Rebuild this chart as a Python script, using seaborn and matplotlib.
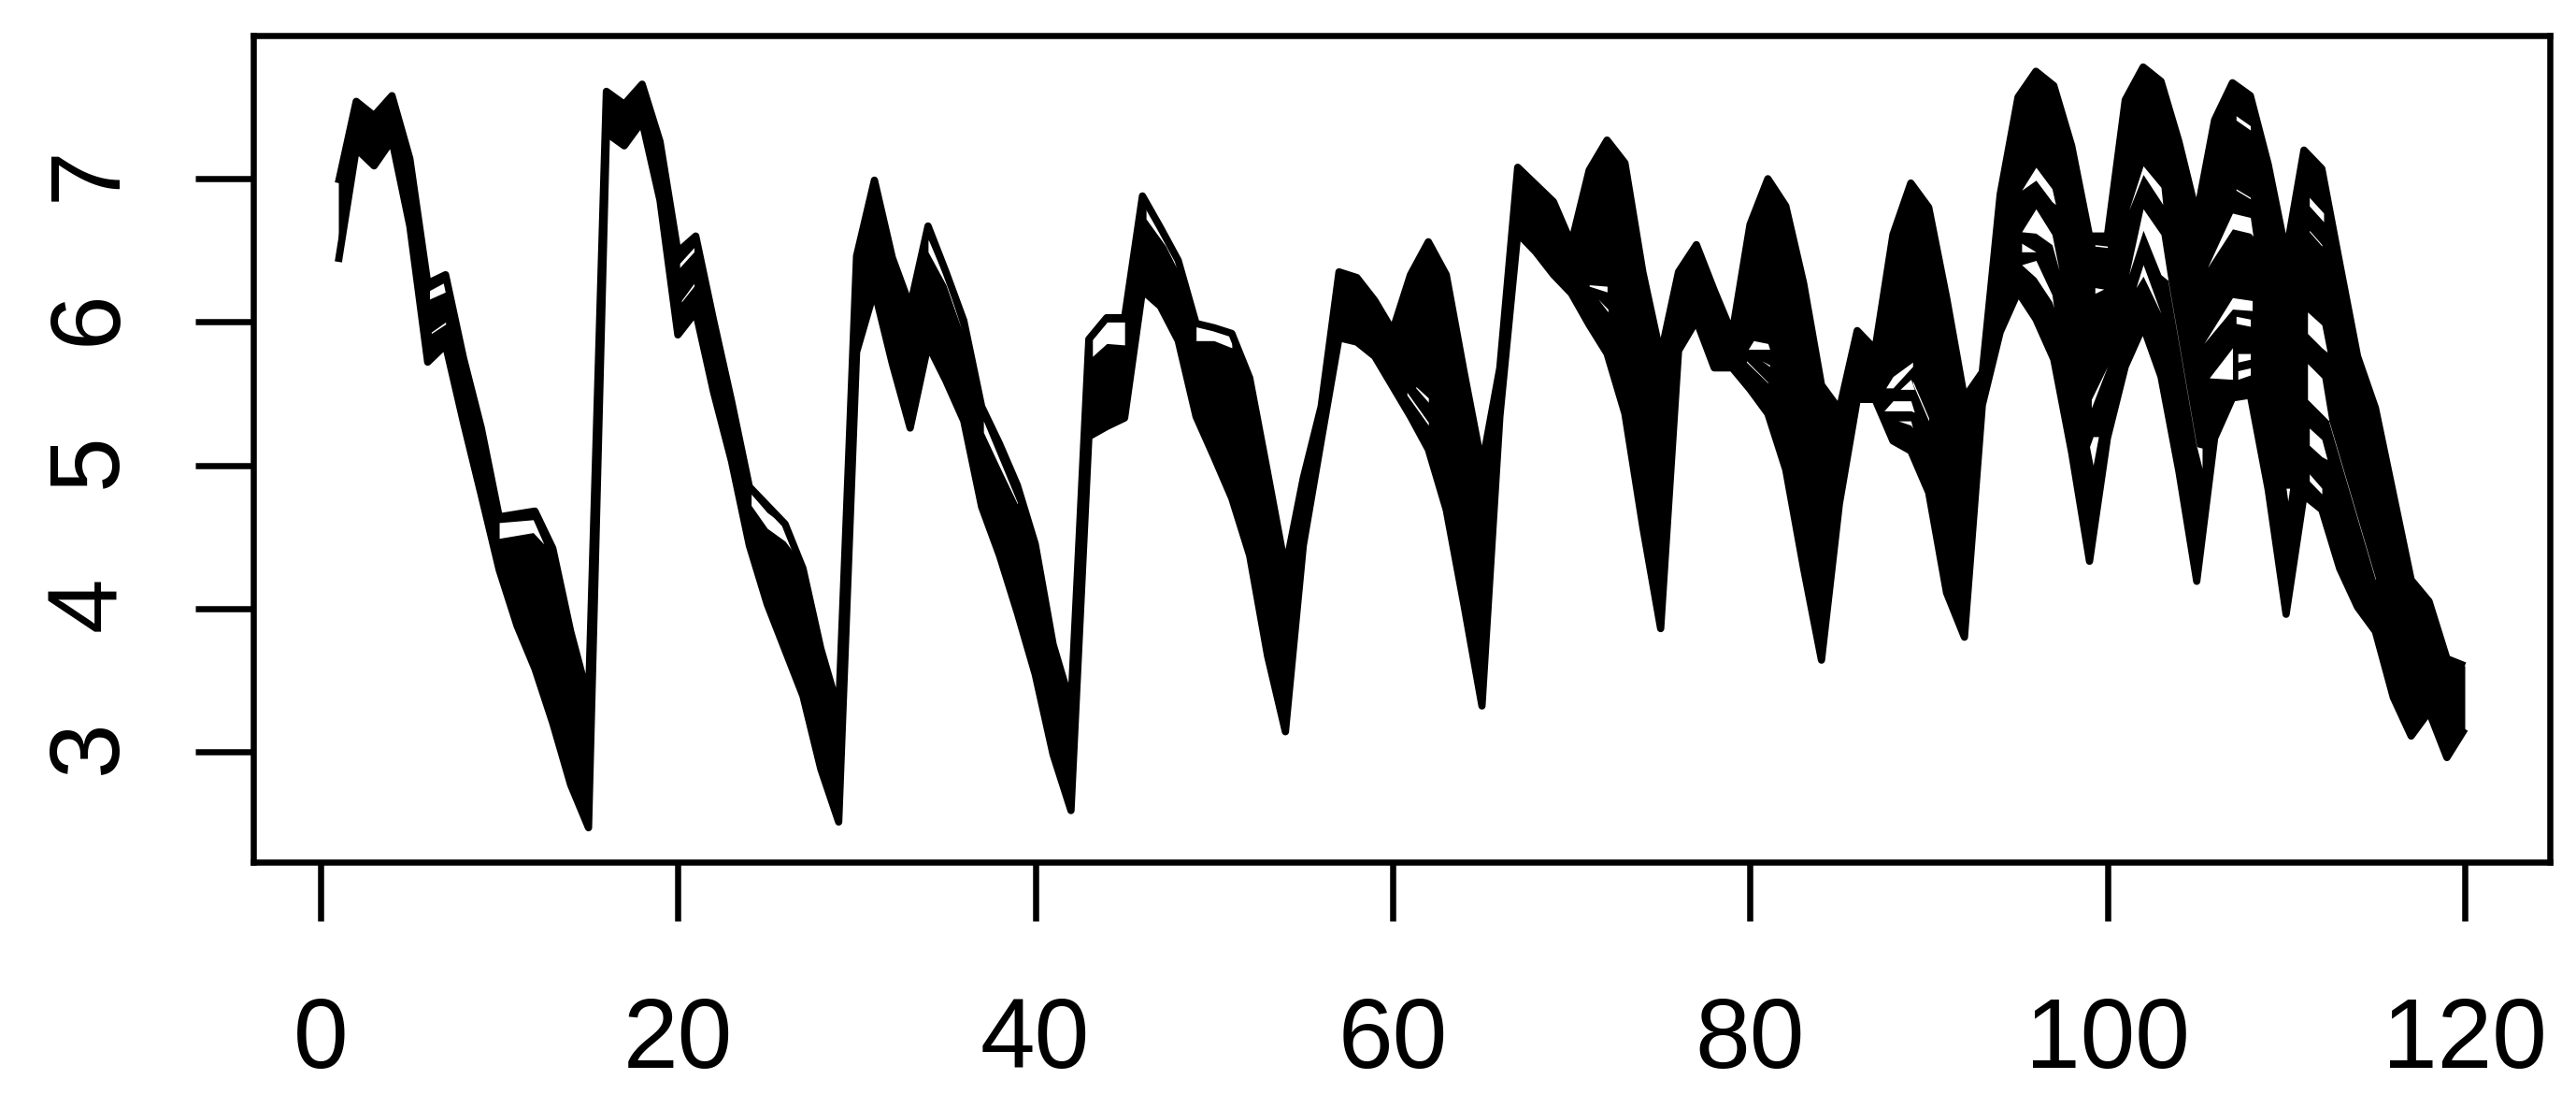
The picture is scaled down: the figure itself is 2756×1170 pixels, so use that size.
import numpy as np
import pandas as pd
import matplotlib
matplotlib.use('Agg')
import matplotlib.pyplot as plt
from matplotlib.transforms import ScaledTranslation
import seaborn as sns

sns.set_style('white')
plt.rcParams['font.family'] = ['Liberation Sans', 'DejaVu Sans']
plt.rcParams['lines.solid_joinstyle'] = 'round'
plt.rcParams['lines.solid_capstyle'] = 'butt'

# top and bottom curves of the bundle of series, one value per time step
upper = [6.97, 7.54, 7.44, 7.58, 7.14, 6.27, 6.33, 5.75, 5.26, 4.64,
         4.66, 4.68, 4.42, 3.84, 3.37, 7.61, 7.52, 7.66, 7.26, 6.49,
         6.60, 6.01, 5.45, 4.85, 4.72, 4.59, 4.28, 3.72, 3.29, 6.46,
         6.99, 6.45, 6.11, 6.67, 6.35, 6.01, 5.41, 5.15, 4.86, 4.45,
         3.75, 3.33, 5.88, 6.03, 6.03, 6.88, 6.66, 6.43, 5.99, 5.96,
         5.92, 5.61, 4.95, 4.28, 4.91, 5.41, 6.35, 6.31, 6.15, 5.94,
         6.33, 6.56, 6.33, 5.65, 5.00, 5.68, 7.08, 6.96, 6.84, 6.55,
         7.06, 7.27, 7.11, 6.35, 5.77, 6.35, 6.54, 6.22, 5.92, 6.68,
         7.00, 6.81, 6.27, 5.56, 5.39, 5.94, 5.81, 6.61, 6.97, 6.80,
         6.17, 5.47, 5.65, 6.89, 7.57, 7.75, 7.65, 7.23, 6.60, 6.60,
         7.55, 7.78, 7.68, 7.26, 6.75, 7.41, 7.67, 7.58, 7.10, 6.48,
         7.20, 7.07, 6.41, 5.76, 5.40, 4.80, 4.20, 4.05, 3.65, 3.60]
lower = [6.42, 7.21, 7.09, 7.27, 6.67, 5.72, 5.84, 5.30, 4.79, 4.27,
         3.88, 3.58, 3.20, 2.77, 2.47, 7.32, 7.23, 7.40, 6.85, 5.91,
         6.07, 5.51, 5.03, 4.44, 4.03, 3.71, 3.39, 2.88, 2.51, 5.79,
         6.22, 5.71, 5.26, 5.84, 5.59, 5.31, 4.71, 4.37, 3.97, 3.54,
         2.98, 2.59, 5.20, 5.27, 5.33, 6.22, 6.11, 5.87, 5.34, 5.06,
         4.77, 4.37, 3.67, 3.14, 4.44, 5.17, 5.89, 5.86, 5.76, 5.55,
         5.34, 5.11, 4.69, 4.02, 3.32, 5.34, 6.62, 6.49, 6.33, 6.20,
         5.98, 5.78, 5.36, 4.57, 3.86, 5.80, 6.01, 5.68, 5.68, 5.53,
         5.36, 4.97, 4.28, 3.64, 4.73, 5.46, 5.46, 5.17, 5.10, 4.81,
         4.11, 3.80, 5.42, 5.93, 6.21, 6.02, 5.74, 5.09, 4.33, 5.19,
         5.69, 5.97, 5.62, 4.96, 4.19, 5.19, 5.47, 5.49, 4.83, 3.96,
         4.79, 4.69, 4.28, 4.01, 3.84, 3.38, 3.11, 3.28, 2.96, 3.16]

# places where the lines of the bundle leave paper showing between them
gap_x = [[6.1, 7], [6.2, 7], [10, 11.9, 12.5], [20.1, 20.9], [20.2, 20.9], [24.1, 25, 26, 26.6],
         [34, 35, 35.9], [37.1, 38, 39], [43.2, 44, 45], [46.2, 47.3, 48.1], [49, 50, 51],
         [60.8, 62], [61.3, 62], [71, 72], [71.5, 72.05],
         [79.9, 80.2, 81, 81.1], [79.8, 81], [80.65, 81.1],
         [87.6, 88, 89.1], [88.4, 89, 89.2], [89.1, 90], [87.5, 88, 89, 89.2], [88.3, 89, 89.1],
         [95.2, 96, 96.9, 97.1], [95.2, 96, 96.9, 97.3], [95.2, 96], [95.2, 96, 96.9, 97],
         [99.3, 99.8], [99.3, 100], [99.1, 100], [99.0, 99.2, 99.5],
         [101.2, 102, 103, 103.1], [101.2, 102, 103, 103.4], [101.6, 102, 103],
         [103.4, 105], [105, 105.3],
         [105.6, 107, 108, 108.15], [105.4, 107, 108.1], [107.2, 108], [105.7, 107],
         [107.3, 108], [107.3, 108], [107.2, 108], [107.2, 108],
         [111.3, 112.1], [111.3, 112], [111.2, 112, 112.3], [111.2, 112, 112.4],
         [111.3, 112, 112.3], [111.3, 112], [112.4, 115], [110, 110.1, 110.2]]
gap_hi = [[6.22, 6.28], [5.93, 6.00], [4.60, 4.62, 4.45], [6.41, 6.52], [6.15, 6.27], [4.80, 4.67, 4.58, 4.37],
          [6.58, 6.29, 5.94], [5.31, 5.04, 4.74], [5.88, 6.00, 6.00], [6.83, 6.64, 6.33], [5.97, 5.96, 5.91],
          [5.51, 5.30], [5.55, 5.47], [6.26, 6.25], [6.16, 6.09],
          [5.81, 5.87, 5.85, 5.81], [5.73, 5.58], [5.73, 5.70],
          [5.54, 5.62, 5.72], [5.53, 5.60, 5.53], [5.59, 5.33], [5.38, 5.45, 5.45, 5.37], [5.31, 5.31, 5.26],
          [6.92, 7.08, 6.93, 6.82], [6.63, 6.79, 6.61, 6.36], [6.55, 6.49], [6.40, 6.43, 6.19, 6.10],
          [6.24, 6.23], [6.54, 6.53], [5.46, 5.69], [5.13, 5.20, 5.20],
          [6.78, 7.09, 6.94, 6.82], [6.33, 6.79, 6.61, 6.29], [6.24, 6.40, 6.06],
          [6.29, 5.13], [5.13, 5.12],
          [6.38, 6.76, 6.73, 6.60], [5.85, 6.17, 6.15], [6.04, 6.02], [5.61, 5.82],
          [5.78, 5.78], [5.66, 5.68], [7.44, 7.37], [6.93, 6.87],
          [6.87, 6.76], [6.64, 6.54], [6.07, 5.98, 5.79], [5.71, 5.61, 5.31],
          [5.26, 5.18, 5.04], [4.94, 4.84], [5.31, 4.21], [4.84, 4.84, 4.84]]
gap_lo = [[6.16, 6.21], [5.92, 5.985], [4.49, 4.53, 4.45], [6.38, 6.49], [6.14, 6.25], [4.72, 4.56, 4.47, 4.37],
          [6.49, 6.26, 5.94], [5.23, 4.99, 4.73], [5.76, 5.85, 5.84], [6.72, 6.53, 6.33], [5.87, 5.87, 5.82],
          [5.49, 5.28], [5.54, 5.44], [6.25, 6.21], [6.16, 6.07],
          [5.81, 5.81, 5.81, 5.81], [5.72, 5.575], [5.73, 5.69],
          [5.54, 5.54, 5.69], [5.53, 5.53, 5.53], [5.57, 5.31], [5.38, 5.38, 5.38, 5.37], [5.31, 5.28, 5.26],
          [6.92, 6.99, 6.84, 6.82], [6.63, 6.62, 6.54, 6.36], [6.49, 6.49], [6.40, 6.31, 6.14, 6.10],
          [6.20, 6.23], [6.53, 6.52], [5.40, 5.69], [5.13, 5.00, 5.20],
          [6.78, 7.03, 6.84, 6.82], [6.33, 6.64, 6.33, 6.29], [6.24, 6.32, 6.06],
          [6.28, 5.12], [5.13, 4.98],
          [6.38, 6.65, 6.62, 6.60], [5.85, 6.09, 6.08], [5.99, 5.97], [5.61, 5.60],
          [5.72, 5.74], [5.60, 5.63], [7.41, 7.34], [6.92, 6.86],
          [6.81, 6.70], [6.63, 6.53], [5.92, 5.82, 5.79], [5.46, 5.36, 5.31],
          [5.14, 5.06, 5.04], [4.89, 4.80], [5.30, 4.20], [4.84, 4.75, 4.84]]

x_ticks = [0, 20, 40, 60, 80, 100, 120]
y_ticks = [3, 4, 5, 6, 7]

time = np.arange(1, len(upper) + 1)
df = pd.DataFrame({'time': np.tile(time, 2),
                   'value': upper + lower,
                   'serie': ['upper'] * len(upper) + ['lower'] * len(lower)})

W, H = 2756, 1170
fig = plt.figure(figsize=(W / 100, H / 100), dpi=100)
ax = fig.add_axes([271 / W, 1 - 922 / H, (2728 - 271) / W, (922 - 37.5) / H])

ax.fill_between(time, lower, upper, color='black', linewidth=0, zorder=1)
for xs, hi, lo in zip(gap_x, gap_hi, gap_lo):
    ax.fill_between(xs, lo, hi, color='white', linewidth=0, zorder=2)
sns.lineplot(data=df, x='time', y='value', units='serie', estimator=None,
             color='black', linewidth=5.6, legend=False, zorder=3, ax=ax)

ax.set_xlim(-3.76, 124.76)
ax.set_ylim(2.23, 8.003)
ax.set_xlabel('')
ax.set_ylabel('')
ax.set_xticks(x_ticks)
ax.set_yticks(y_ticks)
ax.tick_params(axis='both', direction='out', length=45, width=4.7, color='black',
               labelcolor='black', labelsize=76, bottom=True, left=True)
ax.tick_params(axis='x', pad=58)
ax.tick_params(axis='y', pad=45)
plt.setp(ax.get_yticklabels(), rotation=90, va='center')
nudge = ScaledTranslation(0, 5 / 100, fig.dpi_scale_trans)
for lab in ax.get_yticklabels():
    lab.set_transform(lab.get_transform() + nudge)
for s in ax.spines.values():
    s.set_visible(True)
    s.set_linewidth(4.7)
    s.set_color('black')

fig.savefig('out.png', dpi=100)
